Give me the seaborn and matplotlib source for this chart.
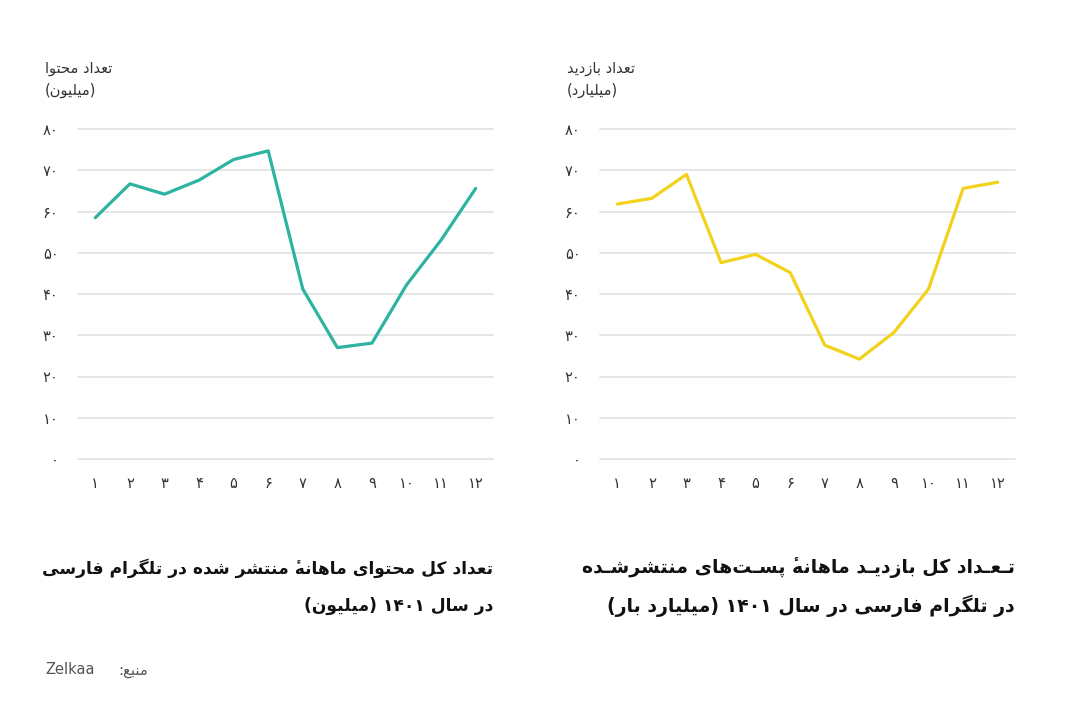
import re
import matplotlib
matplotlib.use('Agg')
import matplotlib.pyplot as plt
import seaborn as sns
import pandas as pd

# Data (Persian months 1..12 of 1401)
months = list(range(1, 13))
content_millions = [58.5, 66.7, 64.2, 67.6, 72.6, 74.7, 41.2, 27.0, 28.1, 42.2, 53.1, 65.6]
views_billions = [61.8, 63.2, 69.0, 47.6, 49.6, 45.2, 27.6, 24.2, 30.7, 41.2, 65.6, 67.1]
y_ticks = [0, 10, 20, 30, 40, 50, 60, 70, 80]

left_ylabel = ['تعداد محتوا', '(میلیون)']
right_ylabel = ['تعداد بازدید', '(میلیارد)']
left_title = ['تعداد کل محتوای ماهانهٔ منتشر شده در تلگرام فارسی', 'در سال ۱۴۰۱ (میلیون)']
right_title = ['تـعـداد کل بازدیـد ماهانهٔ پسـت\u200cهای منتشرشـده', 'در تلگرام فارسی در سال ۱۴۰۱ (میلیارد بار)']
source_label = 'منبع:'
source_name = 'Zelkaa'

TEAL = '#2db3a0'
YELLOW = '#f2d21b'
GRID = '#e4e4e4'
TEXT = '#333333'

# matplotlib has no arabic shaping, so map letters to presentation forms
# (isolated, final, initial, medial); right-joining letters have no initial/medial
FORMS = {
    'ا': ('\uFE8D', '\uFE8E', None, None),
    'ب': ('\uFE8F', '\uFE90', '\uFE91', '\uFE92'),
    'پ': ('\uFB56', '\uFB57', '\uFB58', '\uFB59'),
    'ت': ('\uFE95', '\uFE96', '\uFE97', '\uFE98'),
    'ح': ('\uFEA1', '\uFEA2', '\uFEA3', '\uFEA4'),
    'د': ('\uFEA9', '\uFEAA', None, None),
    'ر': ('\uFEAD', '\uFEAE', None, None),
    'ز': ('\uFEAF', '\uFEB0', None, None),
    'س': ('\uFEB1', '\uFEB2', '\uFEB3', '\uFEB4'),
    'ش': ('\uFEB5', '\uFEB6', '\uFEB7', '\uFEB8'),
    'ع': ('\uFEC9', '\uFECA', '\uFECB', '\uFECC'),
    'ف': ('\uFED1', '\uFED2', '\uFED3', '\uFED4'),
    'ک': ('\uFB8E', '\uFB8F', '\uFB90', '\uFB91'),
    'گ': ('\uFB92', '\uFB93', '\uFB94', '\uFB95'),
    'ل': ('\uFEDD', '\uFEDE', '\uFEDF', '\uFEE0'),
    'م': ('\uFEE1', '\uFEE2', '\uFEE3', '\uFEE4'),
    'ن': ('\uFEE5', '\uFEE6', '\uFEE7', '\uFEE8'),
    'ه': ('\uFEE9', '\uFEEA', '\uFEEB', '\uFEEC'),
    'و': ('\uFEED', '\uFEEE', None, None),
    'ی': ('\uFBFC', '\uFBFD', '\uFBFE', '\uFBFF'),
    'ـ': ('\u0640', '\u0640', '\u0640', '\u0640'),
}
MARKS = '\u0654'


def fa(text):
    # group each letter with the combining marks that follow it
    clusters = []
    for c in text:
        if c in MARKS and clusters:
            clusters[-1] += c
        else:
            clusters.append(c)
    letters = [cl[0] for cl in clusters]
    out = []
    for i, cl in enumerate(clusters):
        c = cl[0]
        if c not in FORMS:
            out.append(cl)
            continue
        prev = letters[i - 1] if i > 0 else None
        nxt = letters[i + 1] if i + 1 < len(letters) else None
        join_prev = prev in FORMS and FORMS[prev][2] is not None
        join_next = nxt in FORMS and FORMS[c][2] is not None
        iso, fin, ini, med = FORMS[c]
        if join_prev and join_next:
            form = med
        elif join_prev:
            form = fin
        elif join_next:
            form = ini
        else:
            form = iso
        # the mark goes first so it lands on top of its letter once drawn
        out.append(cl[1:] + form)
    out = [o for o in out if o != '\u200c']
    s = ''.join(out[::-1])
    # digit / latin runs keep left-to-right order
    s = re.sub(r'[0-9۰-۹A-Za-z]+', lambda m: m.group(0)[::-1], s)
    s = s.translate(str.maketrans('()', ')('))
    return s


def fa_digits(n):
    return str(n).translate(str.maketrans('0123456789', '۰۱۲۳۴۵۶۷۸۹'))


sns.set_style('white')
plt.rcParams['font.family'] = ['DejaVu Sans']

df = pd.DataFrame({'month': months, 'content': content_millions, 'views': views_billions})

fig = plt.figure(figsize=(10.8, 7.06), dpi=100)
fig.patch.set_facecolor('white')

W, H = 1080, 706
panels = [
    (78, 'content', TEAL, left_ylabel, left_title, 493, 12.3),
    (600, 'views', YELLOW, right_ylabel, right_title, 1015, 13.6),
]

for x0, col, color, ylab, title, x_right, tsize in panels:
    ax = fig.add_axes([x0 / W, 1 - 459 / H, 415 / W, 330 / H])
    sns.lineplot(data=df, x='month', y=col, ax=ax, color=color, linewidth=2.3)
    ax.set_xlim(0.5, 12.5)
    ax.set_ylim(0, 80)
    ax.set_yticks(y_ticks)
    ax.set_yticklabels([fa_digits(v) for v in y_ticks])
    ax.set_xticks(months)
    ax.set_xticklabels([fa_digits(m) for m in months])
    ax.tick_params(axis='both', length=0, labelsize=10.5, colors=TEXT)
    ax.tick_params(axis='y', pad=14)
    ax.tick_params(axis='x', pad=12)
    ax.set_xlabel('')
    ax.set_ylabel('')
    ax.yaxis.grid(True, color=GRID, linewidth=1.3)
    ax.xaxis.grid(False)
    ax.set_axisbelow(True)
    for sp in ax.spines.values():
        sp.set_visible(False)
    for g in ax.get_ygridlines():
        g.set_clip_on(False)

    lx = (x0 - 33) / W
    fig.text(lx, 1 - 68 / H, fa(ylab[0]), ha='left', va='center', fontsize=10.5, color=TEXT)
    fig.text(lx, 1 - 90 / H, fa(ylab[1]), ha='left', va='center', fontsize=10.5, color=TEXT)

    fig.text(x_right / W, 1 - 568 / H, fa(title[0]), ha='right', va='center',
             fontsize=tsize, fontweight='bold', color='#111111')
    fig.text(x_right / W, 1 - 606 / H, fa(title[1]), ha='right', va='center',
             fontsize=tsize, fontweight='bold', color='#111111')

fig.text(45 / W, 1 - 670 / H, source_name, ha='left', va='center', fontsize=10.5, color='#555555')
fig.text(148 / W, 1 - 670 / H, fa(source_label), ha='right', va='center', fontsize=10.5, color='#555555')

fig.savefig('out.png', dpi=100, facecolor='white')
